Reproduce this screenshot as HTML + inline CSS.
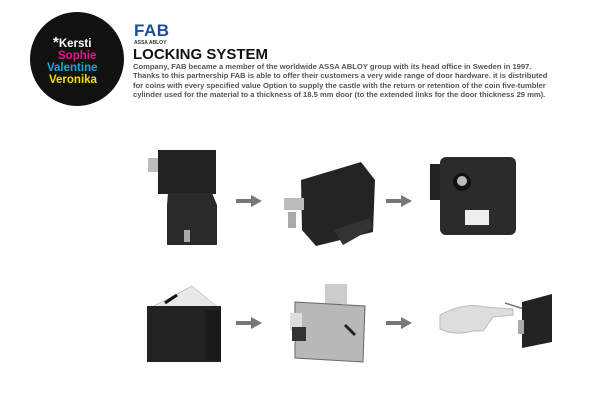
<!DOCTYPE html>
<html><head><meta charset="utf-8"><style>
body{margin:0;width:606px;height:406px;background:#fff;position:relative;overflow:hidden;font-family:"Liberation Sans",sans-serif}
.a{position:absolute}
.circ{left:30px;top:12px;width:94px;height:94px;border-radius:50%;background:#111}
.n{position:absolute;font-weight:bold;font-size:11.5px;line-height:12px;white-space:nowrap}
.body{left:133px;top:62px;width:470px;font-size:7.6px;line-height:9.3px;color:#555;font-weight:bold}
</style></head><body>
<div class="a circ"></div>
<div class="n" style="left:53px;top:37px;color:#fff"><span style="font-size:15px">*</span>Kersti</div>
<div class="n" style="left:58px;top:50px;color:#e6198c">Sophie</div>
<div class="n" style="left:47px;top:62px;color:#1ca6e0">Valentine</div>
<div class="n" style="left:49px;top:74px;color:#f0e000">Veronika</div>
<div class="a" style="left:134px;top:21px;font-size:17px;font-weight:bold;color:#1a4c9c;letter-spacing:0.5px">FAB</div>
<div class="a" style="left:134px;top:40px;font-size:5px;font-weight:bold;color:#333">ASSA ABLOY</div>
<div class="a" style="left:133px;top:46px;font-size:15px;font-weight:bold;color:#111">LOCKING SYSTEM</div>
<div class="a body">Company, FAB became a member of the worldwide ASSA ABLOY group with its head office in Sweden in 1997.<br>Thanks to this partnership FAB is able to offer their customers a very wide range of door hardware. it is distributed<br>for coins with every specified value Option to supply the castle with the return or retention of the coin five-tumbler<br>cylinder used for the material to a thickness of 18.5 mm door (to the extended links for the door thickness 29 mm).</div>

<svg class="a" style="left:0;top:0" width="606" height="406">
<g fill="#777">
<path d="M236 199h15v-4l11 6-11 6v-4h-15z"/>
<path d="M386 199h15v-4l11 6-11 6v-4h-15z"/>
<path d="M236 321h15v-4l11 6-11 6v-4h-15z"/>
<path d="M386 321h15v-4l11 6-11 6v-4h-15z"/>
</g>
<rect x="158" y="150" width="58" height="44" fill="#222"/>
<path d="M168 193h44l5 12v40h-50v-40z" fill="#2a2a2a"/>
<rect x="148" y="158" width="10" height="14" fill="#bbb"/>
<rect x="184" y="230" width="6" height="12" fill="#aaa"/>
<path d="M301 180l60-18 14 18-2 52-57 14-14-16z" fill="#242424"/>
<path d="M334 230l35-12 4 10-30 17z" fill="#333"/>
<rect x="284" y="198" width="20" height="12" fill="#bbb"/>
<rect x="288" y="212" width="8" height="16" fill="#aaa"/>
<rect x="430" y="164" width="12" height="36" fill="#222"/>
<rect x="440" y="157" width="76" height="78" rx="6" fill="#2b2b2b"/>
<circle cx="462" cy="182" r="9" fill="#111"/><circle cx="462" cy="181" r="5" fill="#bbb"/>
<rect x="465" y="210" width="24" height="15" fill="#eee"/>
<path d="M150 308l42-22 24 20-30 18z" fill="#e8e8e8" stroke="#999" stroke-width="0.5"/>
<path d="M165 303l12-8" stroke="#111" stroke-width="3"/>
<rect x="147" y="306" width="74" height="56" fill="#222"/>
<rect x="205" y="310" width="16" height="50" fill="#1a1a1a"/>
<rect x="325" y="284" width="22" height="20" fill="#ccc"/>
<path d="M295 302l70 4-2 56-68-4z" fill="#b8b8b8" stroke="#666"/>
<rect x="290" y="313" width="12" height="18" fill="#ddd"/>
<rect x="292" y="327" width="14" height="14" fill="#333"/>
<path d="M345 325l10 10" stroke="#222" stroke-width="3"/>
<path d="M440 315c15-8 30-12 45-8l28 2 0 6-20 2-10 14-10 0c-15 4-25 2-33-2z" fill="#ddd" stroke="#bbb"/>
<path d="M505 303l25 8" stroke="#777" stroke-width="1.5"/>
<path d="M522 302l30-8v48l-30 6z" fill="#222"/>
<rect x="518" y="320" width="6" height="14" fill="#aaa"/>
</svg>
</body></html>
